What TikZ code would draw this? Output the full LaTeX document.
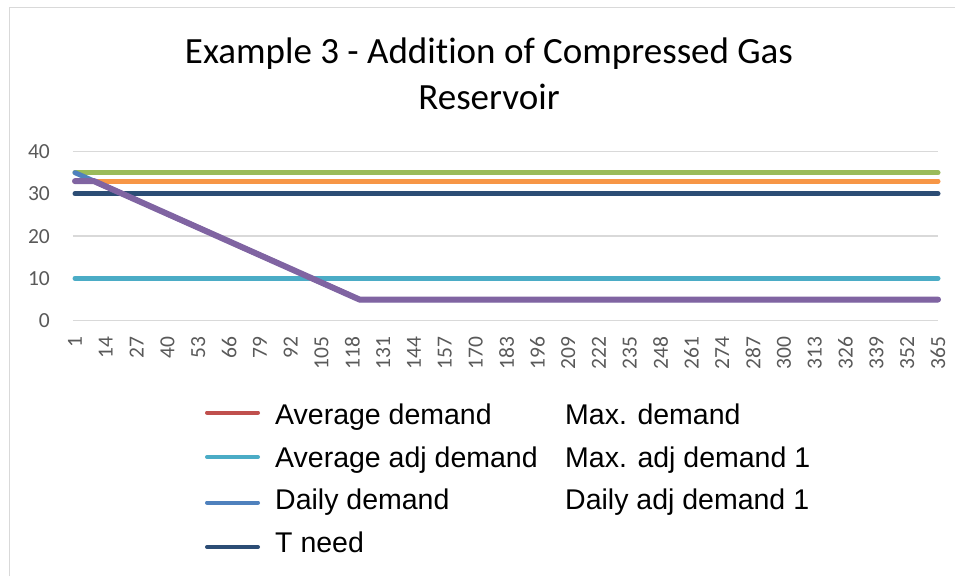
\documentclass[tikz,border=0pt]{standalone}
\usepackage{fontspec}
\setmainfont{Carlito}[Ligatures=NoCommon]
\newfontfamily\keyfont{Liberation Sans}
\usetikzlibrary{positioning}

\definecolor{gridgray}{HTML}{D9D9D9}
\definecolor{labelgray}{HTML}{595959}
\definecolor{avgdem}{HTML}{C0504D}
\definecolor{avgadjdem}{HTML}{4BACC6}
\definecolor{dailydem}{HTML}{4F81BD}
\definecolor{tneeddem}{HTML}{2C4D75}
\definecolor{maxdem}{HTML}{F79646}
\definecolor{maxadjdem}{HTML}{9BBB59}
\definecolor{dailyadjdem}{HTML}{8064A2}

\begin{document}
\begin{tikzpicture}[x=1pt,y=-1pt,node distance=42.5pt,on grid,
  frame/.style={draw=gridgray,line width=1.3pt},
  series/.style={line width=5pt,line cap=round,line join=round},
  key/.style={line width=4pt,line cap=round},
  entry/.style={inner sep=0pt,font=\keyfont\fontsize{28.5}{30}\selectfont},
  tick/.style={inner sep=0pt,text=labelgray,font=\fontsize{21.5}{21.5}\selectfont}]
  \useasboundingbox (0,0) rectangle (955,576);
  \draw[frame] (9.5,576) |- (955,7.5);

  % title
  \node[anchor=base,font=\fontsize{37}{37}\selectfont] (title) at (489,63) {Example 3 - Addition of Compressed Gas};
  \node[anchor=base,font=\fontsize{37}{37}\selectfont] (title2) at ([yshift=-46pt]title.base) {Reservoir};

  % plot area: days along x, values up
  \begin{scope}[shift={(75pt,-320.7pt)},x=2.3709pt,y=4.23pt]
    \foreach \v in {0,10,...,40}{
      \draw[frame] (-0.85,\v) -- (364,\v);
      \node[tick,anchor=east] (y\v) at ([xshift=-25pt]0,\v) {\v};
    }
    \foreach \d [evaluate=\d as \dx using \d-1] in {1,14,...,365}
      \node[tick,anchor=east,rotate=90] (x\d) at ([yshift=-16pt]\dx,0) {\d};

    \draw[series,avgadjdem] (0,10) -- (364,10);
    \draw[series,tneeddem] (0,30) -- (364,30);
    \draw[series,maxdem] (0,33) -- (364,33);
    \draw[series,maxadjdem] (0,35) -- (364,35);
    \draw[series,dailydem] (0,35) -- (120,5) -- (364,5);
    \draw[series,dailyadjdem,line width=6pt] (0,33) -- (8,33) -- (120,5) -- (364,5);
  \end{scope}

  % legend
  \node[entry,anchor=base west] (avg) at (275,424.5) {Average demand};
  \node[entry,below=of avg.base west,anchor=base west] (avgadj) {Average adj demand};
  \node[entry,below=of avgadj.base west,anchor=base west] (daily) {Daily demand};
  \node[entry,below=of daily.base west,anchor=base west] (tneed) {T need};
  \node[entry,right=290pt of avg.base west,anchor=base west] (max) {Max. demand};
  \node[entry,below=of max.base west,anchor=base west] (maxadj) {Max. adj demand 1};
  \node[entry,below=of maxadj.base west,anchor=base west] (dailyadj) {Daily adj demand 1};
  \foreach \e/\c/\l in {avg/avgdem/12pt,avgadj/avgadjdem/10pt,daily/dailydem/7pt,tneed/tneeddem/5pt}
    \draw[key,\c] ([shift={(-68pt,\l)}]\e.base west) -- ([shift={(-17pt,\l)}]\e.base west);
\end{tikzpicture}
\end{document}
